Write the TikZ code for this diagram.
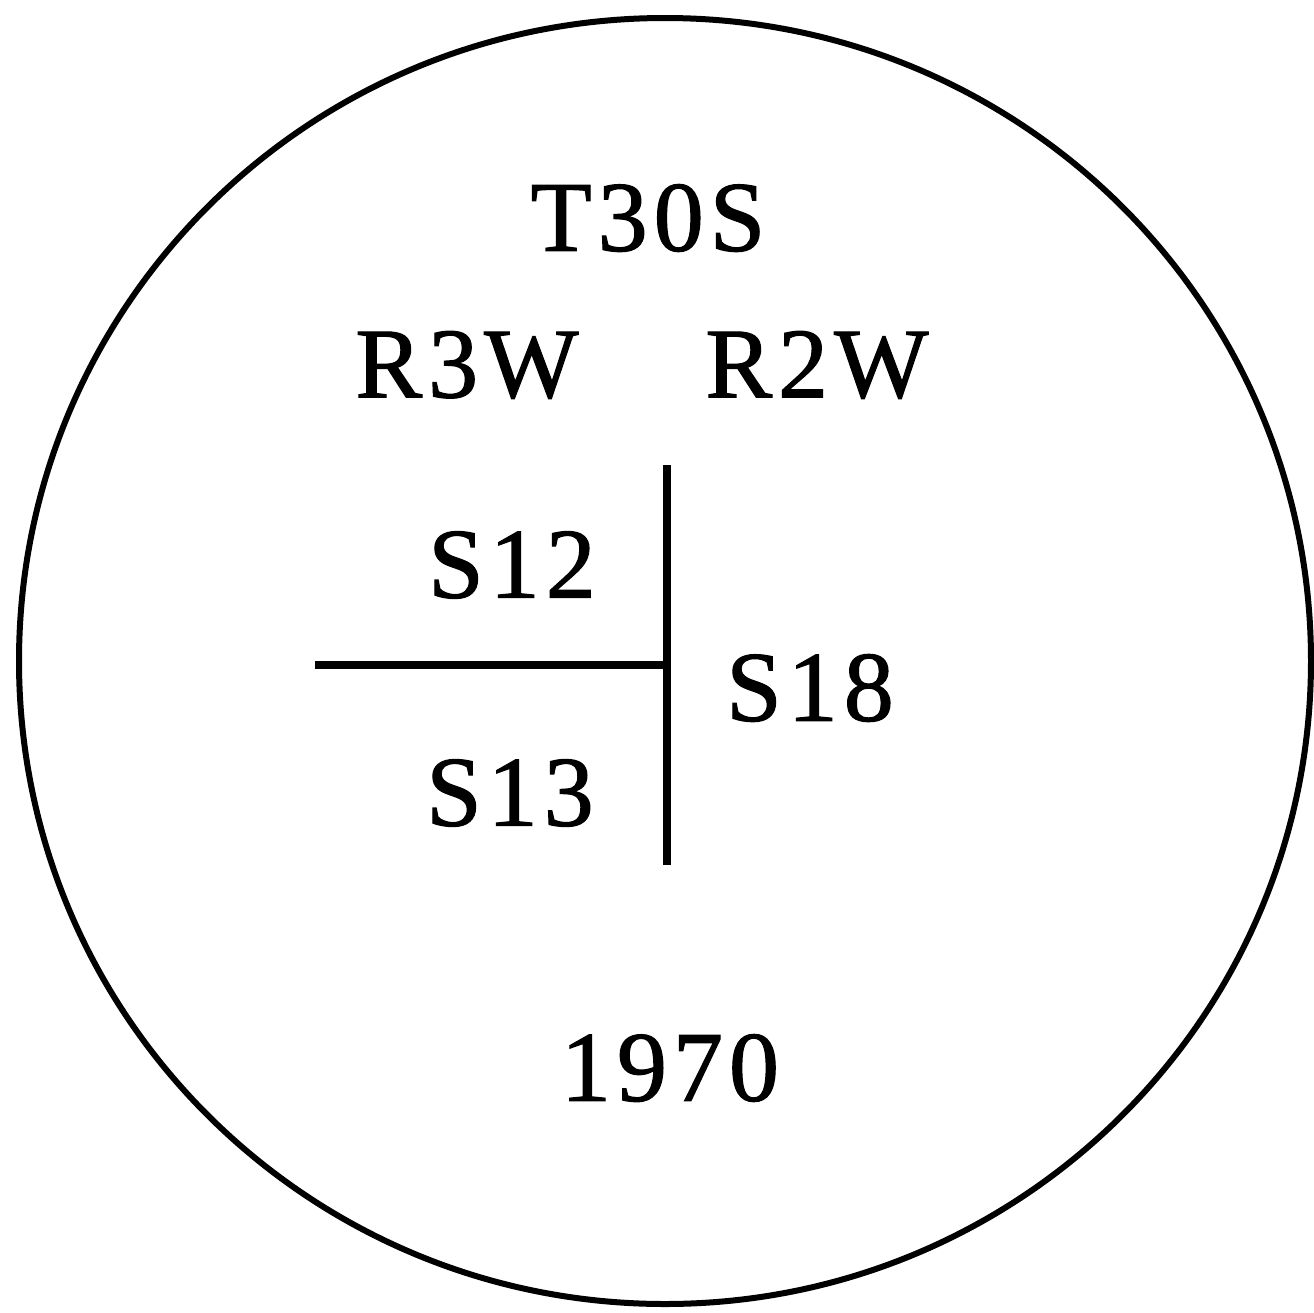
\documentclass[tikz,border=0pt]{standalone}
\usepackage{fontspec}
\setmainfont{Liberation Serif}[LetterSpace=6,FakeBold=1.2]
\begin{document}
\begin{tikzpicture}[x=0.5pt,y=-0.5pt,
  lbl/.style={inner sep=0pt,anchor=center,font=\fontsize{50}{56}\selectfont},
  ring/.style={line width=3pt,draw=black},
  bar/.style={line width=4pt,draw=black}]
\useasboundingbox (0,0) rectangle (1314,1313);
\draw[ring] (665,661) ellipse [x radius=646, y radius=643];
\node[lbl] (t30s) at (648,218) {T30S};
\node[lbl] (r3w) at (467,365) {R3W};
\node[lbl] (r2w) at (817,365) {R2W};
\node[lbl] (s12) at (512,565) {S12};
\node[lbl] (s13) at (510,793) {S13};
\node[lbl] (s18) at (810,688) {S18};
\node[lbl] (y1970) at (670,1068) {1970};
\coordinate (vtop) at (667,465);
\coordinate (vbot) at (667,865);
\coordinate (hl) at (315,665);
\coordinate (hr) at (667,665);
\draw[bar] (vtop) -- (vbot);
\draw[bar] (hl) -- (hr);
\end{tikzpicture}
\end{document}
